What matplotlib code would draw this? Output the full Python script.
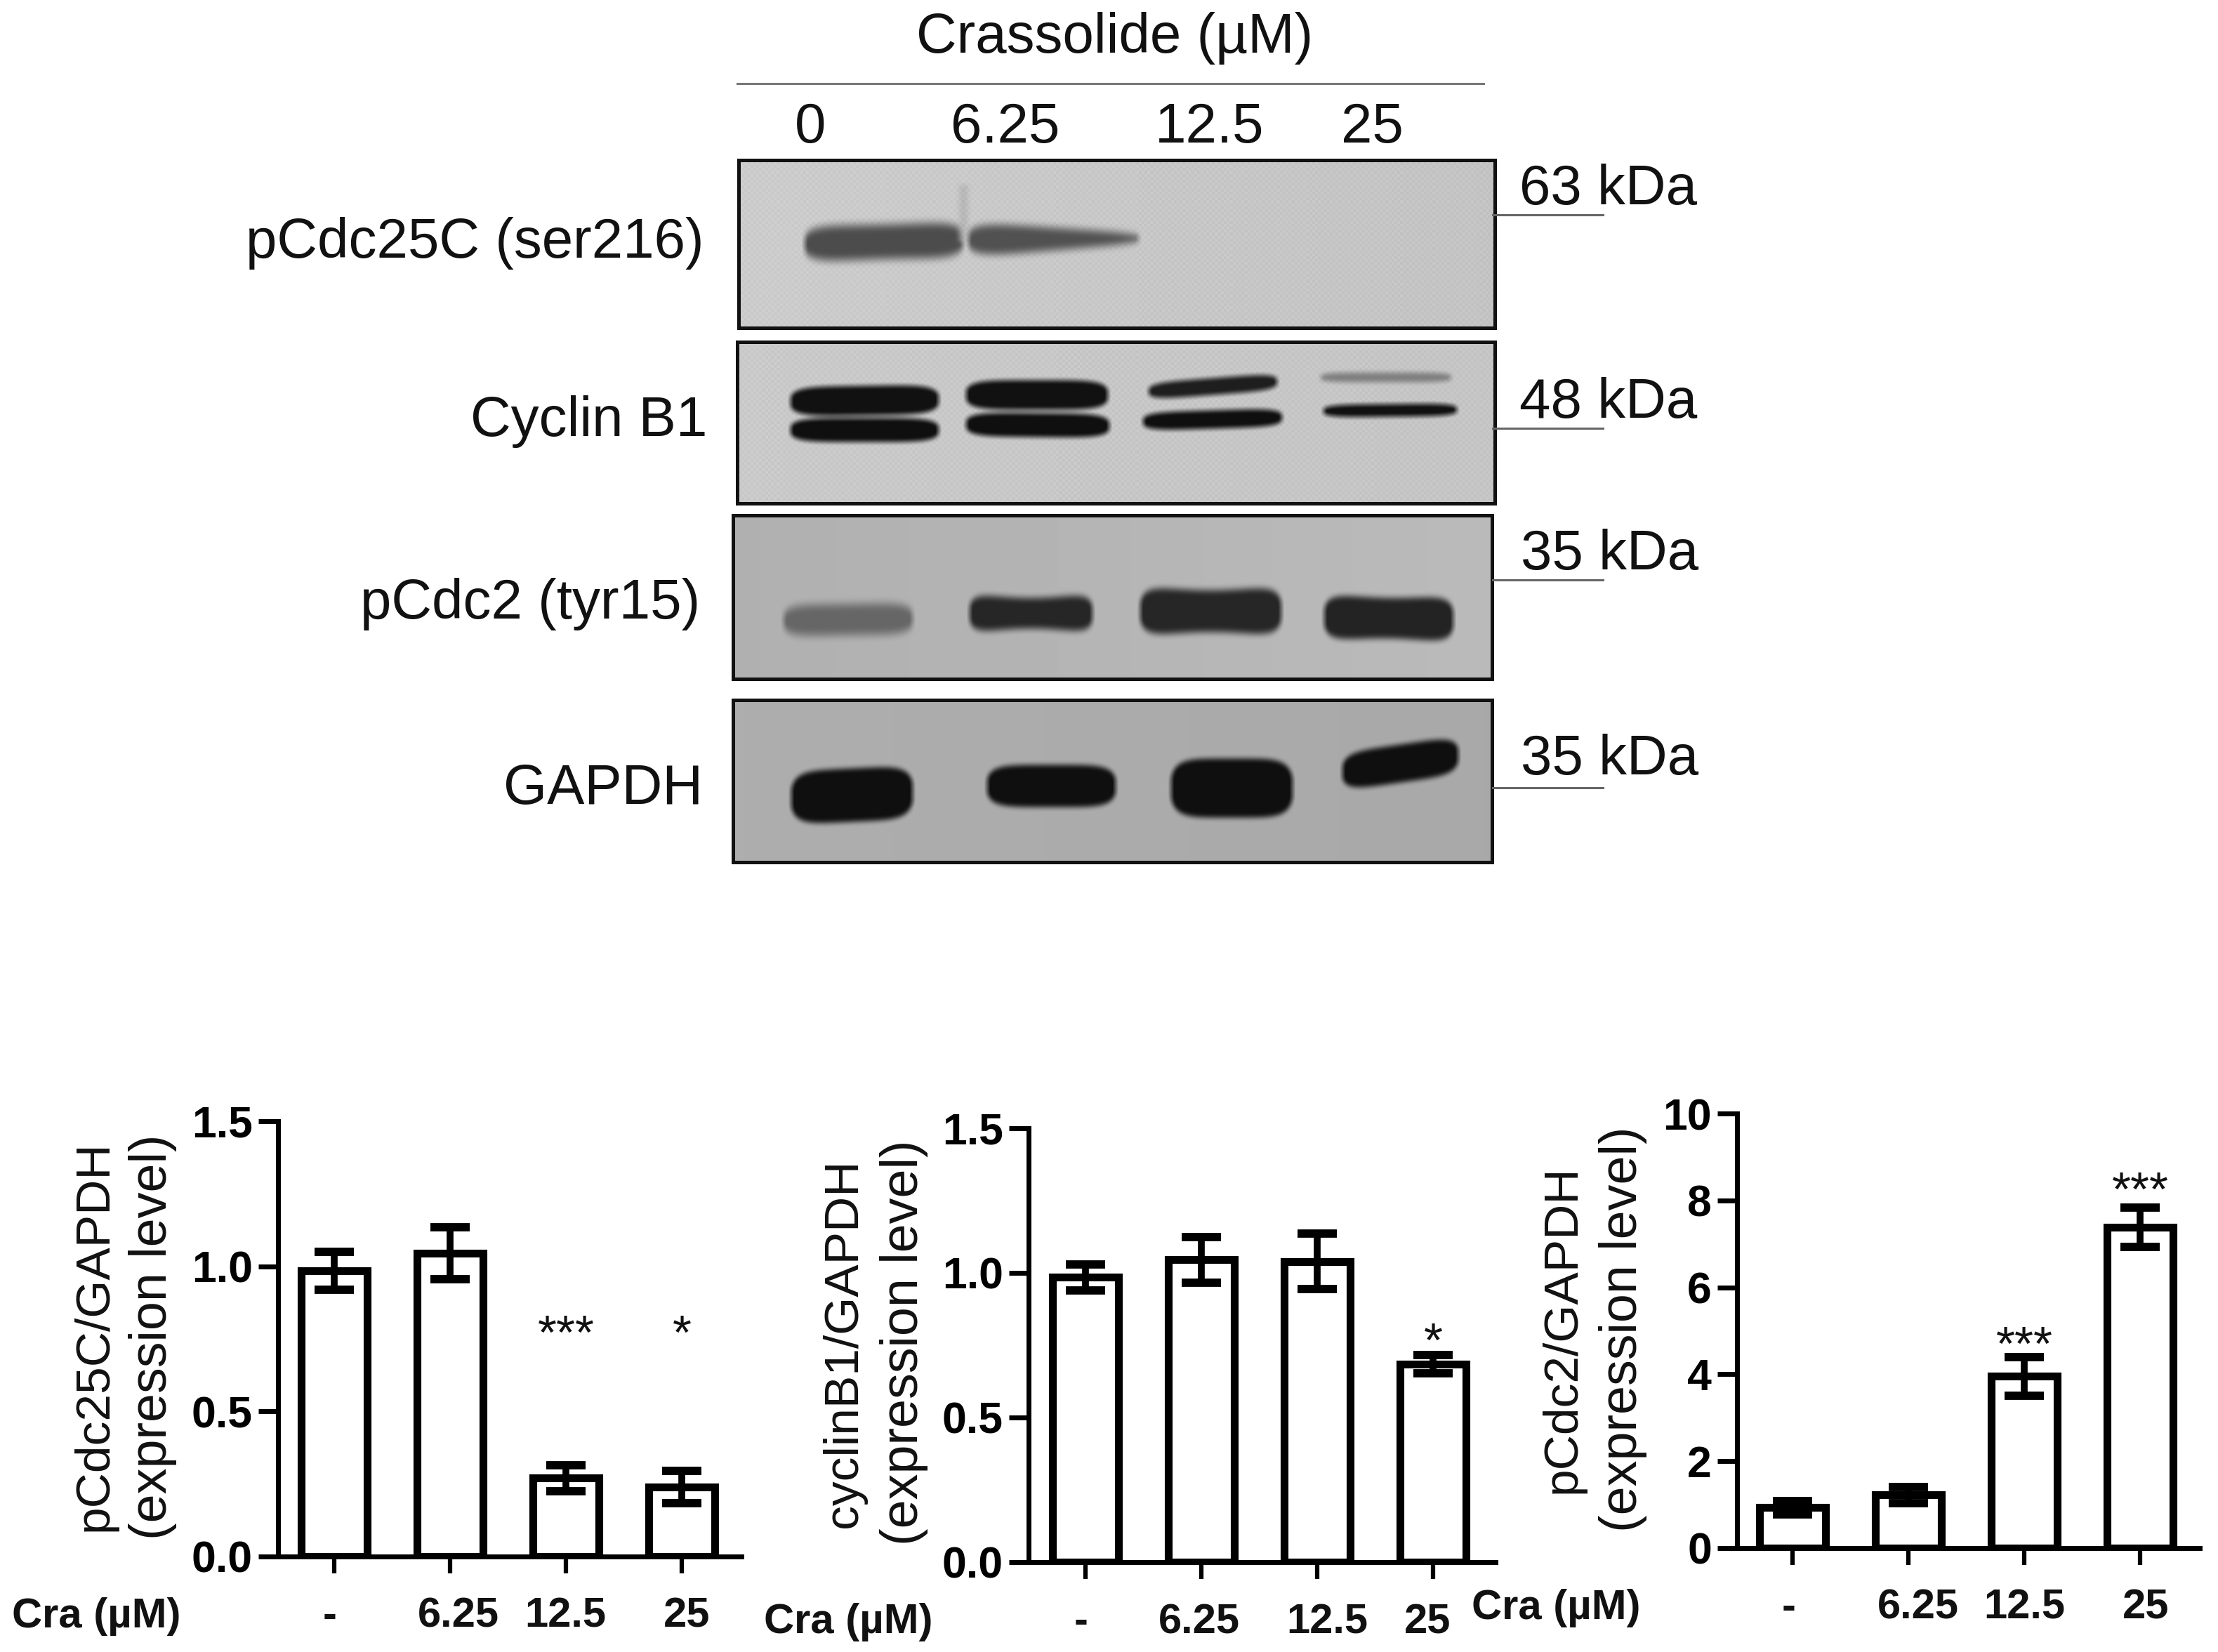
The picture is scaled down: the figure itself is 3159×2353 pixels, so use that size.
import numpy as np
from matplotlib import pyplot as plt
from matplotlib.patches import Rectangle

plt.rcParams['font.family'] = ['Liberation Sans', 'DejaVu Sans']

W, H = 3159, 2353

# bar charts
CATEGORIES = ['-', '6.25', '12.5', '25']
PCDC25C_VALUES = [0.985, 1.045, 0.27, 0.24]
PCDC25C_ERRORS = [0.065, 0.09, 0.045, 0.055]
CYCLINB1_VALUES = [0.985, 1.045, 1.04, 0.685]
CYCLINB1_ERRORS = [0.045, 0.08, 0.095, 0.032]
PCDC2_VALUES = [0.93, 1.22, 3.95, 7.38]
PCDC2_ERRORS = [0.16, 0.19, 0.45, 0.45]
PCDC25C_STARS = [(2, 0.76, '***'), (3, 0.76, '*')]
CYCLINB1_STARS = [(3, 0.755, '*')]
PCDC2_STARS = [(2, 4.62, '***'), (3, 8.17, '***')]

# blot annotation
DOSES = ['0', '6.25', '12.5', '25']
PROTEINS = ['pCdc25C (ser216)', 'Cyclin B1', 'pCdc2 (tyr15)', 'GAPDH']
MARKERS = ['63 kDa', '48 kDa', '35 kDa', '35 kDa']


def px_axes(left, top, right, bottom):
    return fig.add_axes([left / W, 1 - bottom / H, (right - left) / W, (bottom - top) / H])


def blur(img, n):
    # box blur along both directions, edges padded
    kernel = np.ones(n) / n
    pad = n // 2
    padded = np.pad(img, pad, mode='edge')
    padded = np.apply_along_axis(lambda r: np.convolve(r, kernel, mode='same'), 1, padded)
    padded = np.apply_along_axis(lambda c: np.convolve(c, kernel, mode='same'), 0, padded)
    return padded[pad:-pad, pad:-pad]


def draw_blot(box, bg, bands, smears=(), grain=0.0):
    """
    Paint one gel panel as a grey image.
    :param box: (left, top, right, bottom) in figure pixels.
    :param bg: grey levels (left, right) of the background.
    :param bands: (x0, x1, yc, half, grey, waist, tilt, soft, taper) for every band.
    :param smears: (x, y0, y1, half_width, grey) for light vertical streaks.
    :param grain: amplitude of the regular print dither on the background.
    """
    left, top, right, bottom = box
    xs, ys = np.meshgrid(np.arange(left, right), np.arange(top, bottom))
    img = bg[0] + (bg[1] - bg[0]) * (xs - left) / (right - left)
    for x0, x1, yc, half, grey, waist, tilt, soft, taper in bands:
        t = np.clip((xs - x0) / (x1 - x0), 0, 1)
        inside = (xs > x0) & (xs < x1)
        # thin the band at the middle, round it at the ends
        h = half * (1 - waist * (1 - (2 * t - 1) ** 2)) * (1 - taper * t)
        h = h * (1 - np.abs(2 * t - 1) ** 5) ** (1 / 3)
        a = np.clip((h - np.abs(ys - yc - tilt * (t - 0.5))) / soft + 0.5, 0, 1)
        a = a * a * (3 - 2 * a) * inside
        img = img * (1 - a) + grey * a
    for x, y0, y1, hw, grey in smears:
        a = np.clip(1 - np.abs(xs - x) / hw, 0, 1) * ((ys > y0) & (ys < y1))
        img = img * (1 - a) + grey * a
    img = blur(img, 9)
    if grain:
        img = img + grain * np.sign(np.sin(xs * 0.75) * np.sin(ys * 0.75)) * (img > 0.6)
    canvas.imshow(img, extent=(left, right, bottom, top), cmap='gray', vmin=0, vmax=1,
                  interpolation='bilinear', aspect='auto', zorder=1)
    canvas.add_patch(Rectangle((left, top), right - left, bottom - top, fill=False,
                               ec='#111111', lw=3.6, zorder=2))


def bar_panel(x_axis, y_top, y_zero, x_right, centre0, ymax, yticks, yfmt, values, errors, stars):
    ax = px_axes(x_axis, y_top, x_right, y_zero)
    spacing = 165
    ax.set_xlim((x_axis - centre0) / spacing, (x_right - centre0) / spacing)
    ax.set_ylim(0, ymax)
    xs = np.arange(len(values))
    ax.bar(xs, values, width=0.565, color='white', edgecolor='black', linewidth=8, zorder=2)
    ax.errorbar(xs, values, yerr=errors, fmt='none', ecolor='black', elinewidth=7,
                capsize=20, capthick=8.5, zorder=3)
    for i, y, s in stars:
        ax.text(i, y, s, ha='center', va='center', fontsize=50, color='#111111', zorder=4)
    for side in ('top', 'right'):
        ax.spines[side].set_visible(False)
    for side in ('left', 'bottom'):
        ax.spines[side].set_linewidth(5)
    ax.set_xticks(xs, labels=[])
    ax.set_yticks(yticks, labels=[yfmt % v for v in yticks])
    ax.tick_params(axis='x', length=17, width=4.5)
    ax.tick_params(axis='y', length=20, width=5, pad=6, labelsize=45)
    for label in ax.get_yticklabels():
        label.set_fontweight('bold')
    ax.patch.set_alpha(0)
    return ax


fig = plt.figure(figsize=(W / 100, H / 100), dpi=100, facecolor='white')
canvas = fig.add_axes([0, 0, 1, 1])
canvas.set_axis_off()

draw_blot((1052, 228, 2129, 467), (0.80, 0.765), [
    (1145, 1372, 344, 27, 0.30, 0.10, -6, 22, 0.0),
    (1378, 1622, 340, 25, 0.32, 0.0, -2, 20, 0.72),
], smears=[(1372, 262, 345, 10, 0.70)], grain=0.012)
draw_blot((1050, 487, 2129, 717), (0.79, 0.77), [
    (1125, 1337, 570, 21, 0.07, 0.0, -3, 6, 0.0),
    (1125, 1337, 612, 17, 0.06, 0.0, 0, 6, 0.0),
    (1375, 1578, 562, 21, 0.07, 0.0, 0, 6, 0.0),
    (1375, 1580, 605, 17, 0.06, 0.0, 2, 6, 0.0),
    (1635, 1819, 550, 12, 0.12, 0.0, -14, 6, 0.0),
    (1627, 1826, 597, 13, 0.06, 0.0, -6, 6, 0.0),
    (1880, 2067, 537, 7, 0.50, 0.0, 0, 7, 0.0),
    (1884, 2075, 584, 9, 0.07, 0.0, -2, 4, 0.0),
], grain=0.012)
draw_blot((1044, 734, 2125, 967), (0.69, 0.73), [
    (1115, 1300, 882, 23, 0.40, 0.05, -3, 22, 0.0),
    (1380, 1556, 873, 31, 0.15, 0.30, 0, 16, 0.0),
    (1623, 1825, 870, 39, 0.15, 0.24, 0, 16, 0.0),
    (1885, 2070, 880, 36, 0.14, 0.20, 3, 14, 0.0),
])
draw_blot((1044, 997, 2125, 1228), (0.68, 0.66), [
    (1126, 1300, 1132, 38, 0.06, 0.0, -8, 10, 0.0),
    (1405, 1589, 1119, 30, 0.06, 0.0, 0, 10, 0.0),
    (1667, 1841, 1122, 42, 0.06, 0.0, 0, 10, 0.0),
    (1911, 2077, 1087, 27, 0.06, 0.0, -24, 10, 0.0),
])

canvas.set_xlim(0, W)
canvas.set_ylim(H, 0)

TEXT = '#111111'
SIZE = 57.5
canvas.text(1588, 54, 'Crassolide (\u00b5M)', ha='center', va='center', fontsize=SIZE, color=TEXT)
canvas.plot([1050, 2113], [119, 119], color='#777777', lw=2.2)
for x, s in zip([1154, 1432, 1723, 1954], DOSES):
    canvas.text(x, 182, s, ha='center', va='center', fontsize=SIZE, color=TEXT)
for right, y, s in zip([1003, 1007, 997, 1001], [346, 600, 860, 1124], PROTEINS):
    canvas.text(right, y, s, ha='right', va='center', fontsize=SIZE, color=TEXT)
for x, y, ly, s in zip([2164, 2164, 2166, 2166], [270, 574, 790, 1082], [306, 610, 826, 1122], MARKERS):
    canvas.text(x, y, s, ha='left', va='center', fontsize=SIZE, color=TEXT)
    canvas.plot([2126, 2283], [ly, ly], color='#666666', lw=2.2)

bar_panel(396, 1597, 2217, 1056, 476, 1.5, [0, 0.5, 1.0, 1.5], '%.1f',
          PCDC25C_VALUES, PCDC25C_ERRORS, PCDC25C_STARS)
bar_panel(1465, 1607, 2225, 2130, 1546, 1.5, [0, 0.5, 1.0, 1.5], '%.1f',
          CYCLINB1_VALUES, CYCLINB1_ERRORS, CYCLINB1_STARS)
bar_panel(2474, 1586, 2205, 3133, 2553, 10, [0, 2, 4, 6, 8, 10], '%d',
          PCDC2_VALUES, PCDC2_ERRORS, PCDC2_STARS)

# lower labels go over every axes
labels = fig.add_axes([0, 0, 1, 1])
labels.set_axis_off()
labels.set_xlim(0, W)
labels.set_ylim(H, 0)
rows = [
    (135, 1903, 217, 1904, 'pCdc25C/GAPDH', 137, 2302, [470, 653, 805, 978]),
    (1202, 1913, 1288, 1912, 'cyclinB1/GAPDH', 1208, 2311, [1540, 1708, 1890, 2033]),
    (2226, 1893, 2311, 1893, 'pCdc2/GAPDH', 2216, 2290, [2548, 2732, 2883, 3056]),
]
for x1, y1, x2, y2, title, cra_x, row_y, label_x in rows:
    labels.text(x1, y1, title, rotation=90, ha='center', va='center', fontsize=50, color=TEXT)
    labels.text(x2, y2, '(expression level)', rotation=90, ha='center', va='center', fontsize=53, color=TEXT)
    labels.text(cra_x, row_y, 'Cra (\u00b5M)', ha='center', va='center', fontsize=43,
                fontweight='bold', color=TEXT)
    for x, s in zip(label_x, CATEGORIES):
        labels.text(x, row_y, s, ha='center', va='center', fontsize=43, fontweight='bold', color=TEXT)

fig.savefig('out.png', dpi=100)
